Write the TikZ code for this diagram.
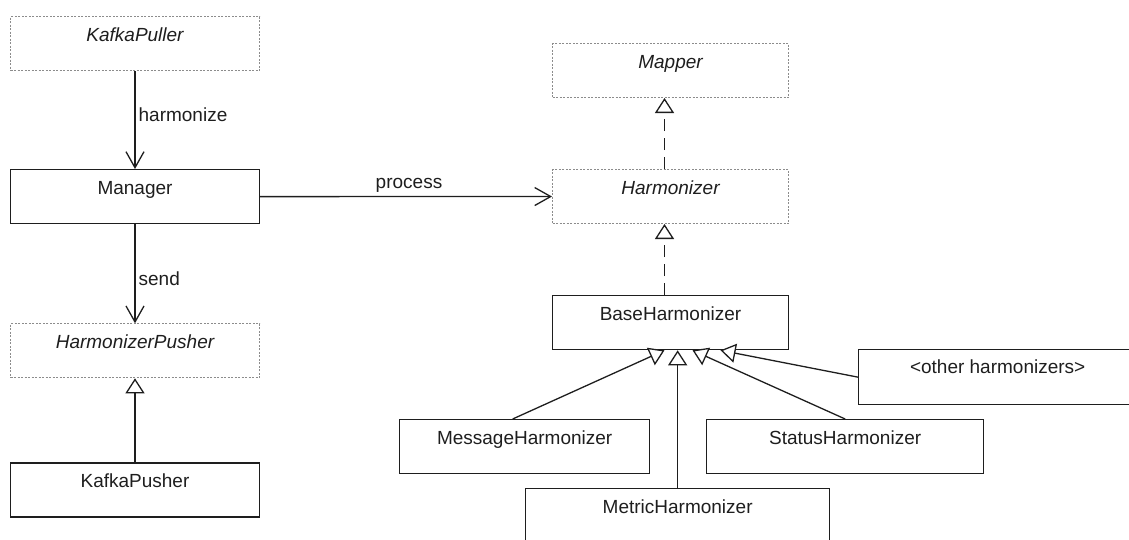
\documentclass[tikz,border=0pt]{standalone}
\usepackage{fontspec}
\setmainfont{Liberation Sans}
\usepackage{xcolor}
\usepackage{tikz}
\usetikzlibrary{arrows.meta,positioning}
\definecolor{umlink}{RGB}{30,30,30}
\definecolor{umltext}{RGB}{30,30,30}
\definecolor{dotgrey}{RGB}{140,140,140}
\tikzset{
  umlfont/.style={font=\fontsize{19pt}{22pt}\selectfont,text=umltext},
  classbox/.style={draw=umlink,line width=1.3pt,rectangle,anchor=north west,
    inner sep=0pt,text height=25pt,text depth=29pt,umlfont},
  ifacebox/.style={classbox,draw=dotgrey,line width=1pt,
    dash pattern=on 2pt off 1.5pt,font=\fontsize{19pt}{22pt}\selectfont\itshape},
  uses/.style={-{Straight Barb[length=16pt,width=18pt]},line width=1.3pt,draw=umlink},
  realizes/.style={-{Triangle[open,length=15pt,width=19pt,fill=white]},
    line width=1.3pt,draw=umlink,dash pattern=on 12pt off 7pt},
  extends/.style={-{Triangle[open,length=15pt,width=19pt,fill=white]},
    line width=1.3pt,draw=umlink},
  edgelabel/.style={umlfont,inner sep=3pt}
}
\begin{document}
\begin{tikzpicture}[x=1pt,y=-1pt]
  \useasboundingbox (0,0) rectangle (1129,539);
  \clip (0,0) rectangle (1129,539);
  % left column
  \node[ifacebox,minimum width=249pt] (puller) at (10,16) {KafkaPuller};
  \node[classbox,minimum width=249pt,below=98pt of puller] (manager) {Manager};
  \node[ifacebox,minimum width=249pt,below=99pt of manager] (pusherif) {HarmonizerPusher};
  \node[classbox,minimum width=249pt,below=84pt of pusherif] (kafkapusher) {KafkaPusher};
  % right column
  \node[ifacebox,minimum width=236pt] (mapper) at (552,43) {Mapper};
  \node[ifacebox,minimum width=236pt,below=71pt of mapper] (harmonizer) {Harmonizer};
  \node[classbox,minimum width=236pt,below=71pt of harmonizer] (base) {BaseHarmonizer};
  \node[classbox,minimum width=250pt] (message) at (399,419) {MessageHarmonizer};
  \node[classbox,minimum width=304pt] (metric) at (525,488) {MetricHarmonizer};
  \node[classbox,minimum width=277pt] (status) at (706,419) {StatusHarmonizer};
  \node[classbox,minimum width=300pt,text height=24pt,text depth=31pt] (others) at (858,349)
    {\hspace*{-22pt}<other harmonizers>};
  % associations
  \draw[uses] (puller) -- node[edgelabel,right,pos=0.45] {harmonize} (manager);
  \draw[uses] (manager) -- node[edgelabel,right,pos=0.55] {send} (pusherif);
  \draw[uses] (manager) -- node[edgelabel,above,pos=0.51] {process} (harmonizer);
  % realization and inheritance
  \draw[extends] (kafkapusher) -- (pusherif);
  \draw[realizes] ([xshift=-6pt]harmonizer.north) -- ([xshift=-6pt]mapper.south);
  \draw[realizes] ([xshift=-6pt]base.north) -- ([xshift=-6pt]harmonizer.south);
  \draw[extends] ([xshift=-12pt]message.north) -- ([xshift=-6pt]base.south);
  \draw[extends] (metric.north) -- (metric.north |- base.south);
  \draw[extends] (status.north) -- ([xshift=22pt]base.south);
  \draw[extends] (others.west) -- ([xshift=50pt]base.south);
\end{tikzpicture}
\end{document}
